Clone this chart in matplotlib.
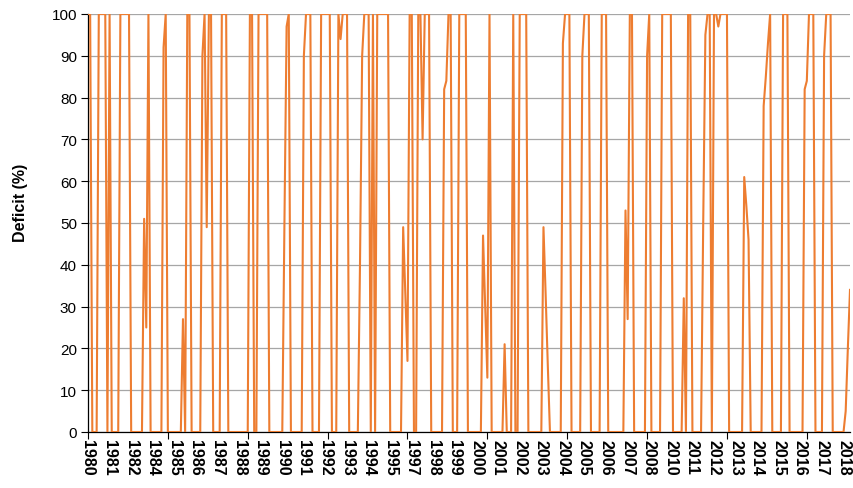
import matplotlib
matplotlib.use("Agg")
import matplotlib.pyplot as plt

plt.rcParams["font.family"] = ["Liberation Sans", "DejaVu Sans"]

# -------------------------------
# Data (one value per record)
# -------------------------------
deficit = [
    100, 100, 0, 0, 0, 100, 100, 100, 100, 0,
    100, 0, 0, 0, 0, 100, 100, 100, 100, 100,
    0, 0, 0, 0, 0, 0, 51, 25, 100, 0,
    0, 0, 0, 0, 0, 92, 100, 0, 0, 0,
    0, 0, 0, 0, 27, 0, 100, 100, 0, 0,
    0, 0, 0, 90, 100, 49, 100, 100, 0, 0,
    0, 0, 100, 100, 100, 0, 0, 0, 0, 0,
    0, 0, 0, 0, 0, 100, 100, 0, 0, 100,
    100, 100, 100, 100, 0, 0, 0, 0, 0, 0,
    0, 50, 97, 100, 0, 0, 0, 0, 0, 0,
    90, 100, 100, 100, 0, 0, 0, 0, 100, 100,
    100, 100, 100, 0, 0, 0, 100, 94, 100, 100,
    100, 0, 0, 0, 0, 0, 40, 90, 100, 100,
    100, 0, 100, 0, 100, 100, 100, 100, 100, 100,
    0, 0, 0, 0, 0, 0, 49, 33, 17, 100,
    100, 0, 0, 100, 100, 70, 100, 100, 100, 0,
    0, 0, 0, 0, 0, 82, 84, 100, 100, 0,
    0, 0, 100, 100, 100, 100, 0, 0, 0, 0,
    0, 0, 0, 47, 30, 13, 100, 0, 0, 0,
    0, 0, 0, 21, 0, 0, 0, 100, 0, 0,
    100, 100, 100, 100, 0, 0, 0, 0, 0, 0,
    0, 49, 33, 16, 0, 0, 0, 0, 0, 0,
    93, 100, 100, 100, 0, 0, 0, 0, 0, 90,
    100, 100, 100, 0, 0, 0, 0, 0, 100, 100,
    100, 0, 0, 0, 0, 0, 0, 0, 0, 53,
    27, 100, 100, 0, 0, 0, 0, 0, 0, 90,
    100, 0, 0, 0, 0, 0, 100, 100, 100, 100,
    100, 0, 0, 0, 0, 0, 32, 0, 100, 100,
    0, 0, 0, 0, 0, 50, 95, 100, 100, 0,
    100, 100, 97, 100, 100, 100, 100, 0, 0, 0,
    0, 0, 0, 0, 61, 54, 46, 0, 0, 0,
    0, 0, 0, 78, 85, 93, 100, 0, 0, 0,
    0, 0, 100, 100, 100, 0, 0, 0, 0, 0,
    0, 0, 82, 84, 100, 100, 100, 0, 0, 0,
    0, 90, 100, 100, 100, 0, 0, 0, 0, 0,
    0, 5, 20, 34,
]

# year shown under every 10th record
year_labels = [
    "1980", "1981", "1982", "1984", "1985", "1986", "1987", "1988", "1989",
    "1990", "1991", "1992", "1993", "1994", "1995", "1997", "1998", "1999",
    "2000", "2001", "2002", "2003", "2004", "2005", "2006", "2007", "2008",
    "2010", "2011", "2012", "2013", "2014", "2015", "2016", "2017", "2018",
]

x = list(range(len(deficit)))

# -------------------------------
# Plot
# -------------------------------
fig = plt.figure(figsize=(8.54, 4.89), dpi=100)
ax = fig.add_axes([88 / 854, 1 - 433 / 489, (850 - 88) / 854, (433 - 15) / 489])

ax.plot(x, deficit, color="#ED7D31", linewidth=1.5, zorder=3)

ax.set_xlim(0, len(deficit) - 1)
ax.set_ylim(0, 100)
ax.set_yticks(range(0, 101, 10))
ax.grid(axis="y", color="#A6A6A6", linewidth=0.9, zorder=0)

# tick marks every 37 records, year labels every 10 records
ax.xaxis.remove_overlapping_locs = False
ax.set_xticks(range(0, len(deficit), 37))
ax.set_xticklabels([])
ax.set_xticks(range(0, 10 * len(year_labels), 10), minor=True)
ax.set_xticklabels(year_labels, minor=True, rotation=-90,
                   fontsize=11.5, fontweight="bold")
ax.tick_params(axis="x", which="major", length=5, width=0.8, direction="out")
ax.tick_params(axis="x", which="minor", length=0, pad=5)
ax.tick_params(axis="y", length=5, width=0.8, labelsize=11, pad=3)

ax.set_ylabel("Deficit (%)", fontsize=11.5, fontweight="bold")
ax.yaxis.set_label_coords(-0.079, 0.55)

for side in ["top", "right"]:
    ax.spines[side].set_visible(False)
for side in ["left", "bottom"]:
    ax.spines[side].set_linewidth(0.9)
    ax.spines[side].set_color("black")

plt.savefig("out.png", dpi=100)
